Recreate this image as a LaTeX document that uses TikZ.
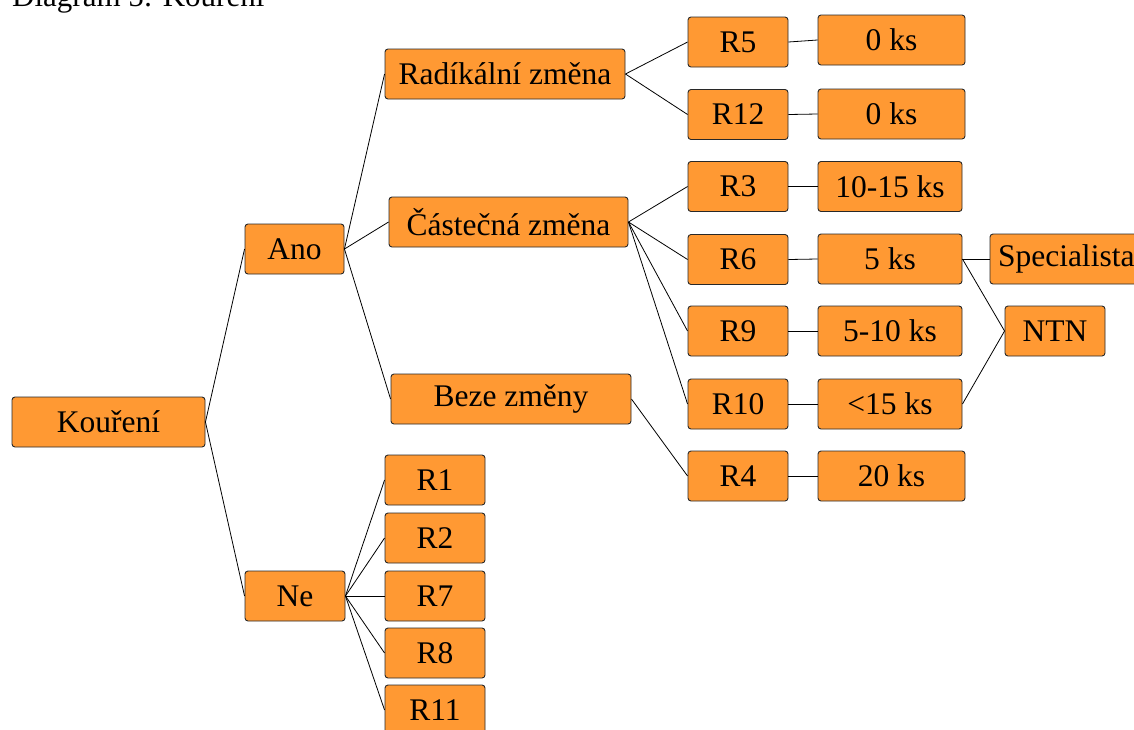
\documentclass[tikz,border=0pt]{standalone}
\usepackage{fontspec}
\setmainfont{Liberation Serif}
\definecolor{boxfill}{RGB}{255,153,51}
\definecolor{boxline}{RGB}{40,40,40}
\begin{document}
\begin{tikzpicture}[x=1pt,y=-1pt,
  box/.style={draw=boxline, fill=boxfill, rounded corners=3pt, line width=0.9pt,
    inner sep=0pt, minimum height=50pt, font=\fontsize{31.5}{34}\selectfont},
  link/.style={draw=black, line width=0.8pt}]
\useasboundingbox (0,0) rectangle (1134,729);
\fill[white] (0,0) rectangle (1134,729);
% title, partly above the page edge
\node[anchor=base west, inner sep=0pt, font=\fontsize{31}{34}\selectfont] (title) at (12,6) {Diagram 5: Kouření};
% level 0 and 1
\node[box, minimum width=193pt] (kour) at (108.5,422) {Kouření};
\node[box, minimum width=99pt] (ano) at (294.5,249) {Ano};
\node[box, minimum width=100pt] (ne) at (295,596) {Ne};
% level 2
\node[box, minimum width=240pt] (rad) at (505,74) {Radíkální změna};
\node[box, minimum width=239pt] (cast) at (508.5,222) {Částečná změna};
\node[box, minimum width=240pt] (beze) at (511,399) {Beze změny};
\node[box, minimum width=100pt] (r1) at (435,480) {R1};
\node[box, minimum width=100pt] (r2) at (435,538) {R2};
\node[box, minimum width=100pt] (r7) at (435,596) {R7};
\node[box, minimum width=100pt] (r8) at (435,653) {R8};
\node[box, minimum width=100pt] (r11) at (435,710) {R11};
% level 3
\node[box, minimum width=100pt] (r5) at (738,42) {R5};
\node[box, minimum width=100pt] (r12) at (738,114.5) {R12};
\node[box, minimum width=100pt] (r3) at (738,186.5) {R3};
\node[box, minimum width=100pt] (r6) at (738,259.5) {R6};
\node[box, minimum width=100pt] (r9) at (738,331) {R9};
\node[box, minimum width=100pt] (r10) at (738,404) {R10};
\node[box, minimum width=100pt] (r4) at (738,476) {R4};
% level 4
\node[box, minimum width=147pt] (k5) at (891.5,40) {0 ks};
\node[box, minimum width=147pt] (k12) at (891.5,114) {0 ks};
\node[box, minimum width=144pt] (k3) at (890,186.5) {10-15 ks};
\node[box, minimum width=144pt] (k6) at (890,259) {5 ks};
\node[box, minimum width=144pt] (k9) at (890,331) {5-10 ks};
\node[box, minimum width=144pt] (k10) at (890,404) {<15 ks};
\node[box, minimum width=147pt] (k4) at (891.5,476) {20 ks};
% level 5
\node[box, minimum width=150pt, text width=150pt, align=left] (spec) at (1065,259) {\hspace{8pt}Specialista};
\node[box, minimum width=100pt] (ntn) at (1055,331) {NTN};
% connectors
\draw[link] (kour.east) -- (ano.west);
\draw[link] (kour.east) -- (ne.west);
\foreach \c in {rad,cast,beze} \draw[link] (ano.east) -- (\c.west);
\foreach \c in {r1,r2,r7,r8,r11} \draw[link] (ne.east) -- (\c.west);
\foreach \c in {r5,r12} \draw[link] (rad.east) -- (\c.west);
\foreach \c in {r3,r6,r9,r10} \draw[link] (cast.east) -- (\c.west);
\draw[link] (beze.east) -- (r4.west);
\draw[link] (r5.east) -- (k5.west);
\draw[link] (r12.east) -- (k12.west);
\draw[link] (r3.east) -- (k3.west);
\draw[link] (r6.east) -- (k6.west);
\draw[link] (r9.east) -- (k9.west);
\draw[link] (r10.east) -- (k10.west);
\draw[link] (r4.east) -- (k4.west);
\draw[link] (k6.east) -- (spec.west);
\draw[link] (k6.east) -- (ntn.west);
\draw[link] (k10.east) -- (ntn.west);
\end{tikzpicture}
\end{document}
